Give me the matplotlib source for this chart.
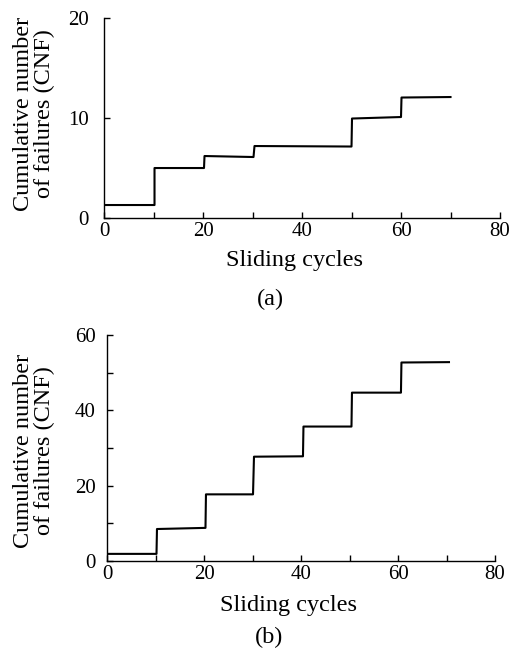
import matplotlib
matplotlib.use("Agg")
import matplotlib.pyplot as plt

plt.rcParams['font.family'] = ['Liberation Serif', 'DejaVu Serif']
plt.rcParams['font.size'] = 15

# (a) cumulative failures
cycles_a = [0, 10.2, 10.2, 20.2, 20.3, 30.2, 30.4, 50.0, 50.1, 60.0, 60.1, 70.0]
cnf_a = [1.3, 1.3, 5.0, 5.0, 6.2, 6.1, 7.2, 7.15, 9.95, 10.1, 12.05, 12.1]

# (b)
cycles_b = [0, 10.2, 10.3, 20.3, 20.4, 30.1, 30.3, 40.4, 40.5, 50.4, 50.5, 60.6, 60.7, 70.5]
cnf_b = [1.9, 1.9, 8.5, 8.8, 17.7, 17.7, 27.7, 27.8, 35.7, 35.7, 44.7, 44.7, 52.7, 52.8]

ylabel = "Cumulative number\nof failures (CNF)"
W, H = 516, 651

fig = plt.figure(figsize=(5.16, 6.51), dpi=100)
ax1 = fig.add_axes([0.2016, 0.6651, 0.7674, 0.3072])
ax2 = fig.add_axes([0.2074, 0.1382, 0.752, 0.3472])

def style(ax, ypad):
    for s in ['top', 'right']:
        ax.spines[s].set_visible(False)
    for s in ['left', 'bottom']:
        ax.spines[s].set_linewidth(1.0)
    ax.tick_params(which='both', direction='in', length=4, width=1.0)
    ax.tick_params(axis='x', pad=3)
    ax.tick_params(axis='y', pad=ypad)
    ax.set_xlim(0, 80)
    ax.set_xticks([0, 20, 40, 60, 80])
    ax.set_xticks([10, 30, 50, 70], minor=True)

ax1.plot(cycles_a, cnf_a, color='black', lw=1.5)
style(ax1, 11)
ax1.set_ylim(0, 20)
ax1.set_yticks([0, 10, 20])

ax2.plot(cycles_b, cnf_b, color='black', lw=1.5)
style(ax2, 8)
ax2.set_ylim(0, 60)
ax2.set_yticks([0, 20, 40, 60])
ax2.set_yticks([10, 30, 50], minor=True)

# axis titles and panel tags, placed in figure pixels
fig.text(34 / W, 1 - 114 / H, ylabel, rotation=90, ha='center', va='center',
         fontsize=17.5, linespacing=1.05)
fig.text(34 / W, 1 - 451 / H, ylabel, rotation=90, ha='center', va='center',
         fontsize=17.5, linespacing=1.05)
fig.text(294 / W, 1 - 261 / H, "Sliding cycles", ha='center', va='center', fontsize=17.5)
fig.text(288 / W, 1 - 605 / H, "Sliding cycles", ha='center', va='center', fontsize=17.5)
fig.text(270 / W, 1 - 299 / H, "(a)", ha='center', va='center', fontsize=17.5)
fig.text(269 / W, 1 - 637 / H, "(b)", ha='center', va='center', fontsize=17.5)

fig.savefig("out.png", dpi=100)
